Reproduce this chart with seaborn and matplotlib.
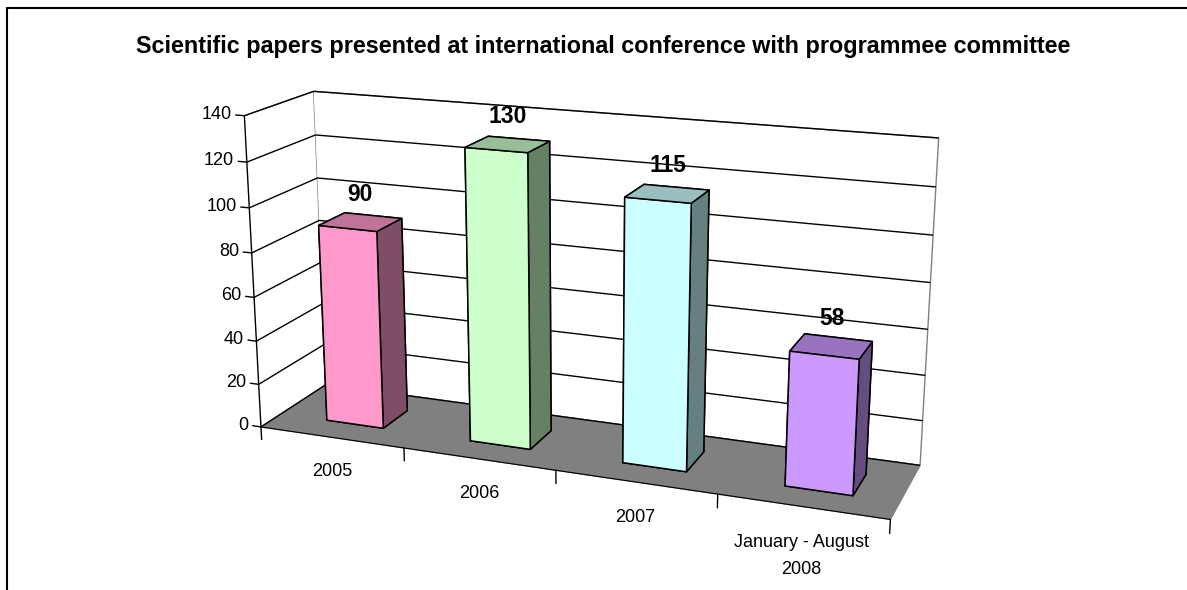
import matplotlib
matplotlib.use("Agg")
import matplotlib.pyplot as plt
import seaborn as sns
import numpy as np
from matplotlib.colors import to_rgb
from matplotlib.patches import Rectangle

sns.set_style("white")
plt.rcParams["font.family"] = ["Liberation Sans", "DejaVu Sans"]
plt.rcParams["text.color"] = "black"
plt.rcParams["xtick.color"] = "black"
plt.rcParams["ytick.color"] = "black"

title = "Scientific papers presented at international conference with programmee committee"
categories = ["2005", "2006", "2007", "January - August\n2008"]
papers = [90, 130, 115, 58]
bar_colors = ["#FF99CC", "#CCFFCC", "#CCFFFF", "#CC99FF"]
z_ticks = [0, 20, 40, 60, 80, 100, 120, 140]


def shade(c, f):
    r, g, b = to_rgb(c)
    return (r * f, g * f, b * f)


fig = plt.figure(figsize=(11.87, 5.90), dpi=100)
ax = fig.add_axes([-0.0165, 0.0136, 1.0, 0.963], projection="3d")
ax.set_proj_type("persp", focal_length=0.6)
ax.view_init(elev=16.7, azim=-69)
ax.set_box_aspect((4, 0.85, 1.99), zoom=1.3)

n = len(papers)
# face order in bar3d: bottom, top, front, back, left, right
face_colors = []
for c in bar_colors:
    face_colors += [c, shade(c, 0.75), c, c, shade(c, 0.5), shade(c, 0.5)]
bars = ax.bar3d(np.arange(n) + 0.33, np.full(n, 0.3), np.zeros(n), 0.4, 0.4, papers,
                color=face_colors, shade=False, edgecolor="black", linewidth=1.1)
bars.set_clip_on(False)

ax.set_xlim(0, n)
ax.set_ylim(0, 1)
ax.set_zlim(0, 140)

# walls and floor
ax.xaxis.set_pane_color((1, 1, 1, 1))
ax.yaxis.set_pane_color((1, 1, 1, 1))
ax.zaxis.set_pane_color("#808080")
ax.xaxis.pane.set_edgecolor("#808080")
ax.yaxis.pane.set_edgecolor("#808080")

ax.grid(True)
ax.xaxis._axinfo["grid"]["color"] = (1, 1, 1, 0)
ax.yaxis._axinfo["grid"]["color"] = (1, 1, 1, 0)
ax.zaxis._axinfo["grid"].update(color="black", linewidth=1.0, linestyle="-")

ax.xaxis.line.set_color("black")
ax.yaxis.line.set_color((0, 0, 0, 0))
ax.zaxis.line.set_color((0, 0, 0, 0))

ax.set_zticks(z_ticks)
ax.set_zticklabels([])
ax.set_yticks([])
ax.set_xticks([])
ax.tick_params(axis="z", color=(0, 0, 0, 0))

# value axis on the front-left edge
ax.plot([0, 0], [0, 0], [0, 140], color="black", lw=1, clip_on=False)
for z in z_ticks:
    ax.plot([0, -0.06], [0, 0], [z, z], color="black", lw=1, clip_on=False)
    ax.text(-0.09, 0, z, str(z), ha="right", va="center", fontsize=13)

# category separators and labels below the floor edge
for k in range(n + 1):
    ax.plot([k, k], [0, 0], [0, -6], color="black", lw=1, clip_on=False)
for i, cat in enumerate(categories):
    ax.text(i + 0.5, 0, -12, cat, ha="center", va="top", fontsize=13,
            linespacing=1.75)

for i, v in enumerate(papers):
    ax.text(i + 0.53, 0.5, v + 7, str(v), ha="center", va="bottom",
            fontsize=16.5, fontweight="bold", zorder=100)

fig.text(0.5084, 1 - 47 / 590, title, ha="center", va="center",
         fontsize=16.8, fontweight="bold")
fig.patches.append(Rectangle((7 / 1187, -0.1), 1.2, 1.0864, transform=fig.transFigure,
                             fill=False, edgecolor="black", lw=1.5))

fig.savefig("out.png", dpi=100)
